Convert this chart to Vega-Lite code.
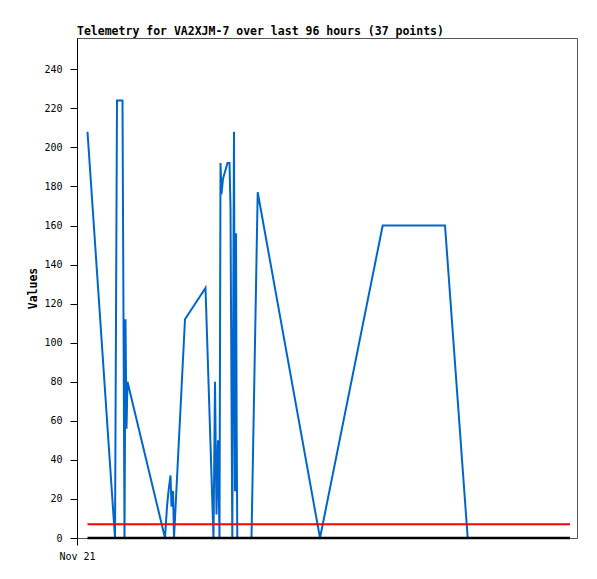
{
  "$schema": "https://vega.github.io/schema/vega-lite/v6.json",
  "width": 500,
  "height": 500,
  "autosize": "none",
  "padding": {"left": 77, "top": 38, "right": 20, "bottom": 41},
  "background": "white",
  "config": {
    "view": {"stroke": "#555555", "strokeWidth": 1},
    "font": "DejaVu Sans Mono"
  },
  "title": {
    "text": "Telemetry for VA2XJM-7 over last 96 hours (37 points)",
    "anchor": "start",
    "frame": "group",
    "font": "DejaVu Sans Mono",
    "fontSize": 11.5,
    "fontWeight": "bold",
    "color": "#000000",
    "offset": 1
  },
  "datasets": {
    "blue": [
      {"hour": 2.1, "value": 208},
      {"hour": 7.6, "value": 0},
      {"hour": 8.0, "value": 224},
      {"hour": 9.1, "value": 224},
      {"hour": 9.5, "value": 0},
      {"hour": 9.7, "value": 112},
      {"hour": 9.9, "value": 56},
      {"hour": 10.1, "value": 80},
      {"hour": 17.6, "value": 0},
      {"hour": 18.0, "value": 16},
      {"hour": 18.3, "value": 24},
      {"hour": 18.7, "value": 32},
      {"hour": 18.9, "value": 16},
      {"hour": 19.2, "value": 24},
      {"hour": 19.4, "value": 0},
      {"hour": 21.6, "value": 112},
      {"hour": 25.7, "value": 128},
      {"hour": 27.3, "value": 0},
      {"hour": 27.6, "value": 80},
      {"hour": 27.9, "value": 12},
      {"hour": 28.2, "value": 50},
      {"hour": 28.5, "value": 0},
      {"hour": 28.7, "value": 192},
      {"hour": 28.9, "value": 176},
      {"hour": 29.2, "value": 184},
      {"hour": 30.1, "value": 192},
      {"hour": 30.5, "value": 192},
      {"hour": 30.7, "value": 169},
      {"hour": 30.8, "value": 120},
      {"hour": 31.06, "value": 0},
      {"hour": 31.4, "value": 208},
      {"hour": 31.6, "value": 24},
      {"hour": 31.8, "value": 156},
      {"hour": 31.94, "value": 52},
      {"hour": 32.06, "value": 0},
      {"hour": 34.9, "value": 0},
      {"hour": 36.14, "value": 177},
      {"hour": 48.6, "value": 0},
      {"hour": 61.14, "value": 160},
      {"hour": 73.6, "value": 160},
      {"hour": 78.14, "value": 0},
      {"hour": 98.6, "value": 0}
    ],
    "red": [
      {"hour": 2.1, "value": 7},
      {"hour": 98.6, "value": 7}
    ],
    "black": [
      {"hour": 2.1, "value": 0},
      {"hour": 98.6, "value": 0}
    ]
  },
  "encoding": {
    "x": {
      "field": "hour",
      "type": "quantitative",
      "scale": {"domain": [0, 100], "nice": false, "zero": false},
      "axis": {
        "title": null,
        "values": [0],
        "labelExpr": "'Nov 21'",
        "labelFlush": false,
        "labelAlign": "center",
        "grid": false,
        "domain": false,
        "tickColor": "#000000",
        "tickSize": 7,
        "labelPadding": 6,
        "labelFont": "DejaVu Sans Mono",
        "labelFontSize": 10,
        "labelColor": "#000000"
      }
    },
    "y": {
      "field": "value",
      "type": "quantitative",
      "scale": {"domain": [0, 256], "nice": false},
      "axis": {
        "title": "Values",
        "titleFont": "DejaVu Sans Mono",
        "titleFontSize": 11.5,
        "titleFontWeight": "bold",
        "titleColor": "#000000",
        "titlePadding": 5,
        "values": [0, 20, 40, 60, 80, 100, 120, 140, 160, 180, 200, 220, 240],
        "grid": false,
        "domainColor": "#000000",
        "tickColor": "#000000",
        "tickSize": 7,
        "labelPadding": 8,
        "labelFont": "DejaVu Sans Mono",
        "labelFontSize": 10,
        "labelColor": "#000000"
      }
    }
  },
  "layer": [
    {
      "data": {"name": "blue"},
      "mark": {"type": "line", "color": "#0066CC", "strokeWidth": 2, "clip": true}
    },
    {
      "data": {"name": "red"},
      "mark": {"type": "line", "color": "#FF0000", "strokeWidth": 2}
    },
    {
      "data": {"name": "black"},
      "mark": {"type": "line", "color": "#000000", "strokeWidth": 2.5}
    }
  ]
}
